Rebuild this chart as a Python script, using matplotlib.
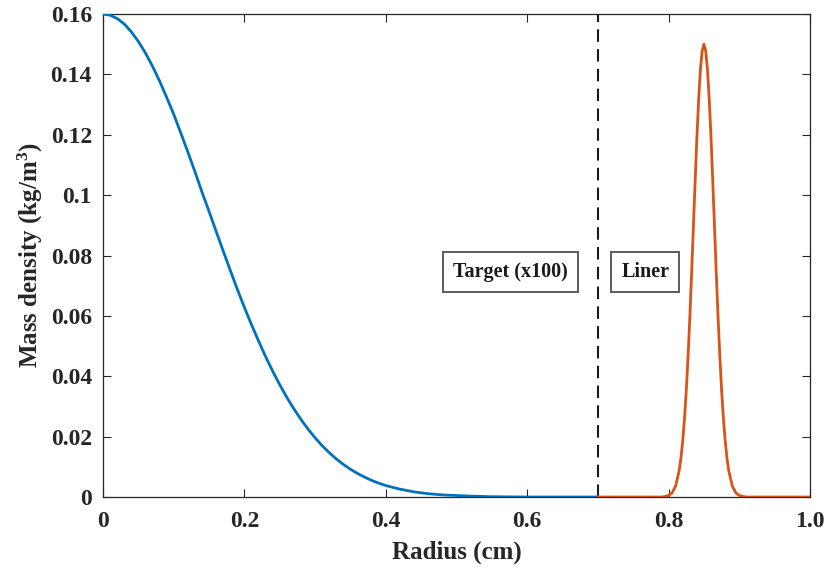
import matplotlib
matplotlib.use("Agg")
import matplotlib.pyplot as plt

# values
target_r = [0.00, 0.01, 0.02, 0.03, 0.04, 0.05, 0.06, 0.07, 0.08, 0.09,
            0.10, 0.11, 0.12, 0.13, 0.14, 0.15, 0.16, 0.17, 0.18, 0.19,
            0.20, 0.21, 0.22, 0.23, 0.24, 0.25, 0.26, 0.27, 0.28, 0.29,
            0.30, 0.31, 0.32, 0.33, 0.34, 0.35, 0.36, 0.37, 0.38, 0.39,
            0.40, 0.42, 0.44, 0.46, 0.48, 0.50, 0.52, 0.55, 0.60, 0.65, 0.70]
target_rho = [0.1600, 0.1596, 0.1585, 0.1567, 0.1541, 0.1509, 0.1471, 0.1427,
              0.1378, 0.1324, 0.1268, 0.1206, 0.1143, 0.1078, 0.1010, 0.0946,
              0.0880, 0.0815, 0.0751, 0.0688, 0.0628, 0.0571, 0.0517, 0.0465,
              0.0417, 0.0372, 0.0330, 0.0292, 0.0257, 0.0225, 0.0196, 0.0170,
              0.0147, 0.0126, 0.0108, 0.0092, 0.0078, 0.0066, 0.0055, 0.0046,
              0.0038, 0.0026, 0.0017, 0.0011, 0.0007, 0.0005, 0.0003, 0.0001,
              0.0, 0.0, 0.0]

liner_r = [0.70, 0.79, 0.795, 0.80, 0.805, 0.81, 0.815, 0.8175, 0.82, 0.8225,
           0.825, 0.8275, 0.83, 0.8325, 0.835, 0.8375, 0.84, 0.8425, 0.845,
           0.8475, 0.85, 0.8525, 0.855, 0.8575, 0.86, 0.8625, 0.865, 0.8675,
           0.87, 0.8725, 0.875, 0.8775, 0.88, 0.8825, 0.885, 0.89, 0.895,
           0.90, 0.905, 0.91, 1.0]
liner_rho = [0.0, 0.0, 0.0002, 0.0005, 0.0014, 0.0037, 0.0088, 0.0130,
             0.0187, 0.0261, 0.0353, 0.0464, 0.0594, 0.0738, 0.0891, 0.1044,
             0.1190, 0.1317, 0.1416, 0.1478, 0.1500, 0.1478, 0.1416, 0.1317,
             0.1190, 0.1044, 0.0891, 0.0738, 0.0594, 0.0464, 0.0353, 0.0261,
             0.0187, 0.0130, 0.0088, 0.0037, 0.0014, 0.0005, 0.0002, 0.0, 0.0]

boundary = 0.7
xticks = [0, 0.2, 0.4, 0.6, 0.8, 1.0]
xlabels = ["0", "0.2", "0.4", "0.6", "0.8", "1.0"]
yticks = [0, 0.02, 0.04, 0.06, 0.08, 0.1, 0.12, 0.14, 0.16]
ylabels = ["0", "0.02", "0.04", "0.06", "0.08", "0.1", "0.12", "0.14", "0.16"]

plt.rcParams["font.family"] = "Liberation Serif"
plt.rcParams["font.weight"] = "bold"
plt.rcParams["mathtext.fontset"] = "custom"
plt.rcParams["mathtext.rm"] = "Liberation Serif:bold"
plt.rcParams["mathtext.it"] = "Liberation Serif:bold"
plt.rcParams["mathtext.bf"] = "Liberation Serif:bold"

fig = plt.figure(figsize=(8.3, 5.73), dpi=100)
ax = fig.add_axes([0.1241, 0.1326, 0.8518, 0.843])

ax.plot(target_r, target_rho, color="#0072BD", lw=2, zorder=3)
ax.plot(liner_r, liner_rho, color="#D95319", lw=2, zorder=3)
ax.axvline(boundary, color="#1a1a1a", lw=1.5, dashes=(6, 3.5), zorder=2)

box = dict(boxstyle="square,pad=0.5", fc="white", ec="#5a5a5a", lw=1.4)
ax.text(0.576, 0.0745, "Target (x100)", ha="center", va="center",
        fontsize=14.5, fontweight="bold", color="#1a1a1a", bbox=box)
ax.text(0.767, 0.0745, "Liner", ha="center", va="center",
        fontsize=14.5, fontweight="bold", color="#1a1a1a", bbox=box)

ax.set_xlim(0, 1.0)
ax.set_ylim(0, 0.16)
ax.set_xticks(xticks)
ax.set_xticklabels(xlabels)
ax.set_yticks(yticks)
ax.set_yticklabels(ylabels)
ax.tick_params(direction="in", top=True, right=True, length=6, width=0.8,
               labelsize=17, colors="#262626")
ax.tick_params(axis="x", pad=10)
ax.tick_params(axis="y", pad=8)
for s in ax.spines.values():
    s.set_color("#262626")
    s.set_linewidth(0.9)

ax.set_xlabel("Radius (cm)", fontsize=18, fontweight="bold", color="#262626", labelpad=6)
ax.set_ylabel("Mass density (kg/m$^{3}$)", fontsize=18, fontweight="bold",
              color="#262626", labelpad=4)

fig.savefig("out.png", dpi=100)
